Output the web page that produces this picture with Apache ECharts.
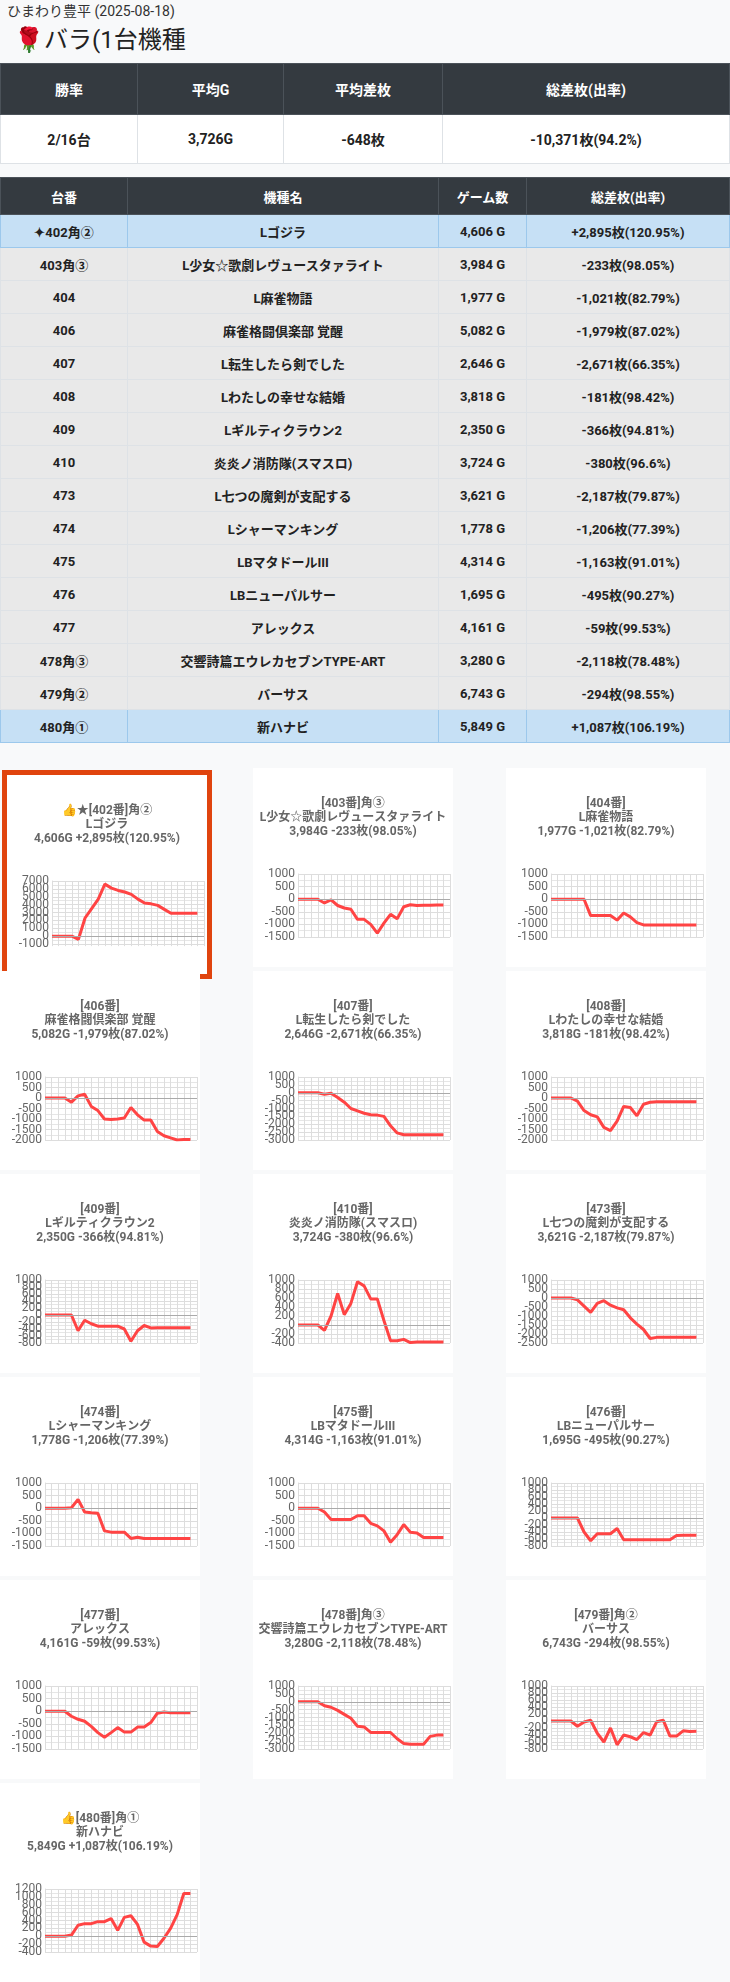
<!DOCTYPE html>
<html>
<head>
<meta charset="utf-8">
<script src="https://cdn.jsdelivr.net/npm/echarts@6/dist/echarts.min.js"></script>
<style>
  body { margin: 0; background: #f8f9fa; font-family: Roboto, "Noto Sans CJK JP", sans-serif; width: 730px; height: 1982px; position: relative; }
  .store { position: absolute; left: 7px; top: 0; font-size: 14px; color: #333; }
  .kind { position: absolute; left: 14px; top: 20px; font-size: 24px; color: #222; }
  table { position: absolute; left: 0; width: 730px; border-collapse: collapse; table-layout: fixed; }
  th { background: #343a40; color: #fff; font-weight: bold; font-size: 14px; border: 1px solid #4b5259; }
  td { text-align: center; font-weight: bold; color: #222; border: 1px solid #dee2e6; }
  #sum td { background: #fff; font-size: 14px; height: 46px; }
  #sum th { height: 48px; }
  #list th { height: 34px; font-size: 13px; }
  #list td { background: #e9e9e9; font-size: 13px; height: 32px; padding: 0; }
  #list tr.hl td { background: #c6e0f5; border-color: #9cc8ec; }
  .card { position: absolute; width: 200px; height: 199px; background: #fff; }
  .card.hot { border: 5px solid #e0440e; background: #fff; }
</style>
</head>
<body>
<div class="store">ひまわり豊平 (2025-08-18)</div>
<div class="kind">🌹バラ(1台機種</div>
<table id="sum" style="top:63px">
  <colgroup><col style="width:137px"><col style="width:146px"><col style="width:159px"><col></colgroup>
  <tr><th>勝率</th><th>平均G</th><th>平均差枚</th><th>総差枚(出率)</th></tr>
  <tr><td>2/16台</td><td>3,726G</td><td>-648枚</td><td>-10,371枚(94.2%)</td></tr>
</table>
<table id="list" style="top:177px">
  <colgroup><col style="width:127px"><col style="width:311px"><col style="width:88px"><col></colgroup>
  <thead><tr><th>台番</th><th>機種名</th><th>ゲーム数</th><th>総差枚(出率)</th></tr></thead>
  <tbody id="rows"></tbody>
</table>
<div id="cards"></div>
<script>
const machines = ["402", "403", "404", "406", "407", "408", "409", "410", "473", "474", "475", "476", "477", "478", "479", "480"];
const corners = ["角②", "角③", "", "", "", "", "", "", "", "", "", "", "", "角③", "角②", "角①"];
const names = ["Lゴジラ", "L少女☆歌劇レヴュースタァライト", "L麻雀物語", "麻雀格闘倶楽部 覚醒", "L転生したら剣でした", "Lわたしの幸せな結婚", "Lギルティクラウン2", "炎炎ノ消防隊(スマスロ)", "L七つの魔剣が支配する", "Lシャーマンキング", "LBマタドールIII", "LBニューパルサー", "アレックス", "交響詩篇エウレカセブンTYPE-ART", "バーサス", "新ハナビ"];
const games = ["4,606", "3,984", "1,977", "5,082", "2,646", "3,818", "2,350", "3,724", "3,621", "1,778", "4,314", "1,695", "4,161", "3,280", "6,743", "5,849"];
const diffs = ["+2,895枚(120.95%)", "-233枚(98.05%)", "-1,021枚(82.79%)", "-1,979枚(87.02%)", "-2,671枚(66.35%)", "-181枚(98.42%)", "-366枚(94.81%)", "-380枚(96.6%)", "-2,187枚(79.87%)", "-1,206枚(77.39%)", "-1,163枚(91.01%)", "-495枚(90.27%)", "-59枚(99.53%)", "-2,118枚(78.48%)", "-294枚(98.55%)", "+1,087枚(106.19%)"];
const prefixes = ["👍★", "", "", "", "", "", "", "", "", "", "", "", "", "", "", "👍"];
const tablePrefix = ["✦", "", "", "", "", "", "", "", "", "", "", "", "", "", "", ""];

const yMin = [-1000, -1500, -1500, -2000, -3000, -2000, -800, -400, -2500, -1500, -1500, -800, -1500, -3000, -800, -400];
const yMax = [7000, 1000, 1000, 1000, 1000, 1000, 1000, 1000, 1000, 1000, 1000, 1000, 1000, 1000, 1000, 1200];
const yStep = [1000, 500, 500, 500, 500, 500, 200, 200, 500, 500, 500, 200, 500, 500, 200, 200];

const s402 = [0, 0, 0, 0, -400, 2300, 3500, 4700, 6600, 6100, 5800, 5600, 5300, 4700, 4200, 4100, 3900, 3400, 2900, 2900, 2900, 2895, 2895];
const s403 = [0, 0, 0, 0, -150, -30, -250, -350, -400, -800, -800, -1000, -1350, -950, -600, -780, -300, -220, -250, -240, -240, -233, -233];
const s404 = [0, 0, 0, 0, 0, 0, -650, -650, -650, -650, -830, -550, -700, -930, -1020, -1021, -1021, -1021, -1021, -1021, -1021, -1021, -1021];
const s406 = [0, 0, 0, 0, -200, 100, 180, -400, -600, -1000, -1020, -1000, -950, -450, -800, -1050, -1050, -1600, -1800, -1900, -2000, -1979, -1979];
const s407 = [0, 0, 0, 0, -100, -30, -300, -600, -1000, -1150, -1300, -1400, -1420, -1500, -2100, -2550, -2670, -2671, -2671, -2671, -2671, -2671, -2671];
const s408 = [0, 0, 0, 0, -150, -600, -800, -900, -1400, -1550, -1100, -400, -450, -850, -300, -200, -181, -181, -181, -181, -181, -181, -181];
const s409 = [0, 0, 0, 0, 0, -450, -150, -250, -320, -320, -320, -320, -400, -750, -450, -300, -370, -366, -366, -366, -366, -366, -366];
const s410 = [0, 0, 0, 0, -120, 200, 700, 230, 480, 960, 870, 580, 580, 100, -350, -350, -320, -390, -380, -380, -380, -380, -380];
const s473 = [0, 0, 0, 0, -100, -450, -800, -300, -150, -400, -550, -650, -1100, -1450, -1750, -2250, -2187, -2187, -2187, -2187, -2187, -2187, -2187];
const s474 = [0, 0, 0, 0, 20, 350, -150, -180, -200, -900, -950, -950, -950, -1200, -1150, -1206, -1206, -1206, -1206, -1206, -1206, -1206, -1206];
const s475 = [0, 0, 0, 0, -150, -450, -450, -450, -450, -300, -300, -600, -700, -900, -1350, -1050, -650, -950, -980, -1160, -1163, -1163, -1163];
const s476 = [0, 0, 0, 0, 0, -400, -650, -450, -450, -450, -300, -620, -620, -620, -620, -620, -620, -620, -620, -500, -495, -495, -495];
const s477 = [0, 0, 0, 0, -200, -320, -400, -600, -850, -1030, -850, -650, -830, -830, -630, -630, -450, -80, -30, -59, -59, -59, -59];
const s478 = [0, 0, 0, 0, -250, -350, -550, -800, -1050, -1550, -1600, -1950, -1950, -1950, -1950, -2350, -2650, -2700, -2700, -2700, -2200, -2118, -2118];
const s479 = [0, 0, 0, 0, -150, -30, 20, -350, -600, -200, -680, -400, -450, -530, -330, -400, -20, 20, -430, -430, -280, -300, -294];
const s480 = [0, 0, 0, 0, 30, 280, 320, 320, 370, 370, 450, 150, 480, 520, 300, -150, -250, -260, -50, 200, 550, 1087, 1087];
const series = [s402, s403, s404, s406, s407, s408, s409, s410, s473, s474, s475, s476, s477, s478, s479, s480];
const xCats = Array.from({ length: 24 }, (_, i) => String(i));

// table rows
const tbody = document.getElementById("rows");
for (let i = 0; i < machines.length; i++) {
  const tr = document.createElement("tr");
  if (diffs[i][0] === "+") tr.className = "hl";
  tr.innerHTML = `<td>${tablePrefix[i]}${machines[i]}${corners[i]}</td><td>${names[i]}</td><td>${games[i]} G</td><td>${diffs[i]}</td>`;
  tbody.appendChild(tr);
}

// y axes: labels are split across 3 stacked axes so that ECharts does not drop crowded ones
function yAxes(i) {
  const axes = [];
  for (let k = 0; k < 3; k++) {
    axes.push({
      type: "value",
      position: "left",
      offset: 0,
      min: yMin[i],
      max: yMax[i],
      interval: yStep[i],
      axisLine: { show: k === 0, lineStyle: { color: "#ddd" } },
      axisTick: { show: false },
      axisLabel: {
        color: "#666", fontSize: 12, margin: 3, fontFamily: "Liberation Sans Narrow, Roboto",
        showMinLabel: true, showMaxLabel: true,
        formatter: (v) => (Math.round((v - yMin[i]) / yStep[i]) % 3 === k ? String(v) : ""),
      },
      splitLine: { show: k === 0, lineStyle: { color: "#ddd" } },
      minorTick: { show: false, splitNumber: 2 },
      minorSplitLine: { show: k === 0, lineStyle: { color: "#e6e6e6" } },
    });
  }
  return axes;
}

// chart cards
const holder = document.getElementById("cards");
const colX = [0, 253, 506];
for (let i = 0; i < machines.length; i++) {
  const card = document.createElement("div");
  const row = Math.floor(i / 3);
  const col = i % 3;
  card.className = "card";
  if (i === 0) {
    card.className = "card hot";
    card.style.left = "2px";
    card.style.top = "770px";
  } else {
    card.style.left = colX[col] + "px";
    card.style.top = (768 + row * 203) + "px";
  }
  holder.appendChild(card);

  const chart = echarts.init(card, null, { width: 200, height: 199 });
  const title = `${prefixes[i]}[${machines[i]}番]${corners[i]}\n${names[i]}\n${games[i]}G ${diffs[i]}`;
  chart.setOption({
    animation: false,
    title: {
      text: title,
      left: "center",
      top: 24,
      textStyle: { fontSize: 12, fontWeight: "bold", color: "#666", lineHeight: 14, fontFamily: "Liberation Sans Narrow, Roboto, Noto Sans CJK JP" },
    },
    grid: { left: 45, right: 3, top: 106, height: 63 },
    xAxis: {
      type: "category",
      data: xCats,
      boundaryGap: false,
      axisLine: { show: false },
      axisTick: { show: true, length: 10, interval: 0, lineStyle: { color: "#ddd" } },
      axisLabel: { show: false },
      splitLine: { show: true, interval: 0, lineStyle: { color: "#ddd" } },
    },
    yAxis: yAxes(i),
    series: [{
      type: "line",
      data: series[i],
      showSymbol: false,
      lineStyle: { color: "#ff4444", width: 3 },
      markLine: {
        silent: true,
        symbol: "none",
        label: { show: false },
        lineStyle: { color: "#aaa", type: "solid", width: 1 },
        data: [{ yAxis: 0 }],
      },
    }],
  });
}
</script>
</body>
</html>
